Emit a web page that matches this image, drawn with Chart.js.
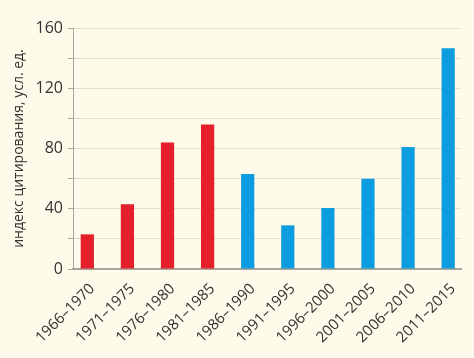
<!DOCTYPE html>
<html>
<head>
<meta charset="utf-8">
<script src="https://cdn.jsdelivr.net/npm/chart.js@4"></script>
<style>
  html, body { margin: 0; padding: 0; background: #fefbea; }
  #wrap { width: 474px; height: 358px; }
</style>
</head>
<body>
<div id="wrap"><canvas id="barChart"></canvas></div>
<script>
const periods = ['1966–1970', '1971–1975', '1976–1980', '1981–1985', '1986–1990',
                 '1991–1995', '1996–2000', '2001–2005', '2006–2010', '2011–2015'];
const citationIndex = [23, 43, 84, 96, 63, 29, 40.5, 60, 81, 146.5];
const barColors = ['#e5202a', '#e5202a', '#e5202a', '#e5202a',
                   '#0c9de0', '#0c9de0', '#0c9de0', '#0c9de0', '#0c9de0', '#0c9de0'];
const yTickLabels = [0, 40, 80, 120, 160];

const points = citationIndex.map((v, i) => ({ x: i, y: v }));
const font = 'Open Sans';

new Chart(document.getElementById('barChart').getContext('2d'), {
    type: 'bar',
    data: {
        datasets: [{
            data: points,
            backgroundColor: barColors,
            borderWidth: 0,
            barPercentage: 0.33,
            categoryPercentage: 1
        }]
    },
    options: {
        responsive: true,
        maintainAspectRatio: false,
        animation: false,
        layout: { padding: { top: 28, right: 13, left: 0, bottom: 0 } },
        plugins: { legend: { display: false }, tooltip: { enabled: false } },
        scales: {
            x: {
                type: 'linear',
                offset: false,
                min: -0.357,
                max: 9.32,
                afterFit: scale => { scale.height = 89; },
                grid: { display: false, drawTicks: false, offset: false },
                border: { color: '#aaa49a', width: 2 },
                ticks: {
                    stepSize: 1,
                    includeBounds: false,
                    autoSkip: false,
                    maxRotation: 45,
                    minRotation: 45,
                    padding: 11,
                    labelOffset: 5,
                    color: '#333',
                    font: { family: font, size: 15 },
                    callback: value => Number.isInteger(value) ? periods[value] : ''
                }
            },
            y: {
                min: 0,
                max: 160,
                afterFit: scale => { scale.width = 73; },
                grid: { color: '#e4dfcc', lineWidth: 1, tickLength: 5, tickColor: '#aaa49a' },
                border: { color: '#aaa49a', width: 1 },
                ticks: {
                    stepSize: 20,
                    padding: 5,
                    color: '#333',
                    font: { family: font, size: 16 },
                    callback: value => yTickLabels.includes(value) ? value : ''
                },
                title: {
                    display: true,
                    text: 'индекс цитирования, усл. ед.',
                    color: '#333',
                    font: { family: font, size: 14 },
                    padding: { top: 11, bottom: 0 }
                }
            }
        }
    }
});
</script>
</body>
</html>
